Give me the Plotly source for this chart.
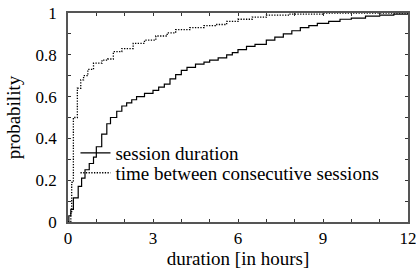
import plotly.graph_objects as go

# session duration CDF (hours, probability)
session_hours = [0, 0.03, 0.1, 0.19, 0.36, 0.48, 0.6, 0.75, 0.9, 1.0, 1.19, 1.37, 1.5, 1.72, 1.9,
                 2.07, 2.25, 2.42, 2.7, 3.0, 3.2, 3.4, 3.6, 3.8, 4.0, 4.2, 4.5, 4.8, 5.0, 5.3,
                 5.6, 5.8, 6.0, 6.3, 6.6, 7.0, 7.3, 7.6, 7.9, 8.2, 8.5, 8.8, 9.2, 9.6, 10.0,
                 10.5, 11.0, 11.5, 12.0]
session_prob = [0, 0.03, 0.06, 0.115, 0.17, 0.21, 0.25, 0.28, 0.31, 0.36, 0.42, 0.47, 0.50, 0.53,
                0.555, 0.57, 0.585, 0.60, 0.615, 0.63, 0.645, 0.66, 0.685, 0.705, 0.725, 0.74,
                0.755, 0.765, 0.775, 0.785, 0.80, 0.81, 0.825, 0.84, 0.85, 0.87, 0.885, 0.90,
                0.915, 0.93, 0.94, 0.95, 0.96, 0.97, 0.975, 0.985, 0.99, 0.995, 1.0]

# time between consecutive sessions CDF
between_hours = [0, 0.1, 0.13, 0.19, 0.33, 0.45, 0.55, 0.7, 0.9, 1.2, 1.4, 1.6, 1.9, 2.3, 2.7,
                 3.1, 3.5, 3.8, 4.3, 4.8, 5.2, 5.6, 6.0, 6.5, 7.0, 7.8, 9.0, 12.0]
between_prob = [0, 0.05, 0.19, 0.50, 0.64, 0.68, 0.70, 0.73, 0.76, 0.775, 0.78, 0.815, 0.83,
                0.855, 0.87, 0.89, 0.905, 0.92, 0.93, 0.94, 0.945, 0.96, 0.97, 0.98, 0.99,
                0.995, 1.0, 1.0]

x_ticks = [0, 3, 6, 9, 12]
y_ticks = [0, 0.2, 0.4, 0.6, 0.8, 1]
y_tick_text = ["0", "0.2", "0.4", "0.6", "0.8", "1"]

FONT = "Liberation Serif"

fig = go.Figure()
fig.add_trace(go.Scatter(x=session_hours, y=session_prob, mode="lines", line_shape="hv",
                         name="session duration", line=dict(color="black", width=1.2),
                         legend="legend"))
fig.add_trace(go.Scatter(x=between_hours, y=between_prob, mode="lines", line_shape="hv",
                         name="time between consecutive sessions",
                         line=dict(color="black", width=1.3, dash="1.3px,1.4px"),
                         legend="legend2"))

axis_common = dict(showline=True, linecolor="#555", linewidth=1.6, mirror="ticks",
                   ticks="inside", ticklen=3, tickcolor="#333", showgrid=False, zeroline=False,
                   automargin=False, ticklabeloverflow="allow",
                   tickfont=dict(family=FONT, size=17, color="black"))

fig.update_xaxes(range=[0, 12], tickvals=x_ticks, ticktext=[str(v) for v in x_ticks],
                 minor=dict(dtick=1, ticks="inside", ticklen=3, tickcolor="#333"),
                 title=dict(text="duration [in hours]", font=dict(family=FONT, size=19, color="black"),
                            standoff=2),
                 **axis_common)
fig.update_yaxes(range=[0, 1], tickvals=y_ticks, ticktext=y_tick_text,
                 minor=dict(dtick=0.1, ticks="inside", ticklen=3, tickcolor="#333"),
                 ticklabelstandoff=6,
                 title=dict(text="probability", font=dict(family=FONT, size=19, color="black"),
                            standoff=10),
                 **axis_common)

legend_common = dict(xanchor="left", yanchor="middle", bgcolor="rgba(0,0,0,0)",
                     font=dict(family=FONT, size=19, color="black"), itemwidth=30,
                     borderwidth=0)
fig.update_layout(
    width=416, height=272,
    margin=dict(l=68, r=8, t=13, b=50),
    plot_bgcolor="white", paper_bgcolor="white",
    legend=dict(x=0.022, y=0.33, **legend_common),
    legend2=dict(x=0.022, y=0.235, **legend_common),
    showlegend=True,
)

fig.write_html("out.html", config={"displayModeBar": False},
               post_script="document.body.style.margin='0';")
